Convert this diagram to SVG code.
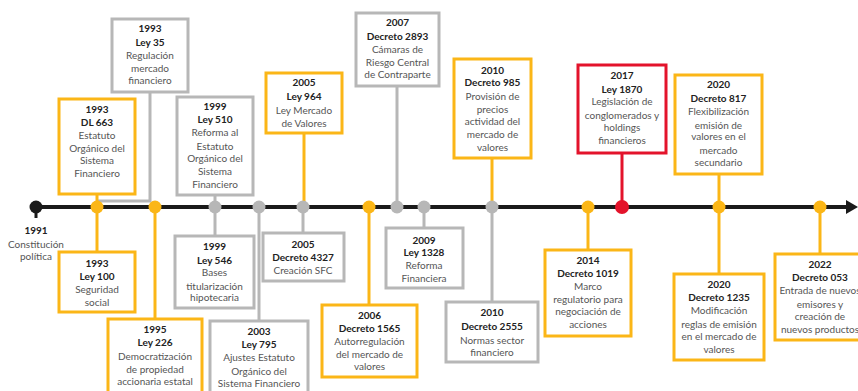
<svg xmlns="http://www.w3.org/2000/svg" width="858" height="391" viewBox="0 0 858 391">
<style>
text{font-family:Lato,"Open Sans","Liberation Sans",sans-serif;font-size:10px;text-anchor:middle;fill:#555}
.b{font-weight:bold;fill:#222}
.box{fill:#fff;stroke-width:3}
.y{stroke:#FBB617}
.g{stroke:#B7B7B7}
.r{stroke:#E3132B}
.c{fill:none;stroke-width:3}
.dy{fill:#FBB617}.dg{fill:#B7B7B7}.dr{fill:#E3132B}
</style>
<rect width="858" height="391" fill="#fff"/>
<g id="connectors">
<polyline class="c g" points="150,92 150,201 97,201"/>
<line class="c y" x1="97" y1="194" x2="97" y2="252"/>
<line class="c y" x1="155" y1="207" x2="155" y2="319"/>
<line class="c g" x1="215" y1="195" x2="215" y2="236"/>
<line class="c g" x1="259" y1="207" x2="259" y2="321"/>
<line class="c y" x1="304" y1="133" x2="304" y2="207"/>
<line class="c g" x1="303" y1="207" x2="303" y2="233"/>
<line class="c y" x1="369" y1="207" x2="369" y2="305"/>
<line class="c g" x1="397" y1="86" x2="397" y2="207"/>
<line class="c g" x1="424" y1="207" x2="424" y2="228"/>
<line class="c y" x1="492" y1="158" x2="492" y2="207"/>
<line class="c g" x1="492" y1="207" x2="492" y2="302"/>
<line class="c y" x1="588" y1="207" x2="588" y2="250"/>
<line class="c r" x1="622" y1="153" x2="622" y2="207"/>
<line class="c y" x1="719" y1="174" x2="719" y2="274"/>
<line class="c y" x1="820" y1="207" x2="820" y2="254"/>
<line x1="36" y1="207" x2="36" y2="218" stroke="#1a1a1a" stroke-width="3"/>
<line x1="36" y1="207" x2="848" y2="207" stroke="#1a1a1a" stroke-width="4"/>
<polygon points="846,200 858,207 846,214" fill="#1a1a1a"/>
</g>
<g id="dots">
<circle cx="36" cy="207" r="6.5" fill="#1a1a1a"/>
<circle class="dy" cx="97" cy="207" r="6.5"/>
<circle class="dy" cx="155" cy="207" r="6.5"/>
<circle class="dg" cx="215" cy="207" r="6.5"/>
<circle class="dg" cx="259" cy="207" r="6.5"/>
<circle class="dg" cx="303" cy="207" r="6.5"/>
<circle class="dy" cx="369" cy="207" r="6.5"/>
<circle class="dg" cx="397" cy="207" r="6.5"/>
<circle class="dg" cx="424" cy="207" r="6.5"/>
<circle class="dg" cx="492" cy="207" r="6.5"/>
<circle class="dy" cx="588" cy="207" r="6.5"/>
<circle class="dr" cx="622" cy="207" r="7"/>
<circle class="dy" cx="719" cy="207" r="6.5"/>
<circle class="dy" cx="820" cy="207" r="6.5"/>
</g>
<g id="n1991">
<text class="b" x="36" y="234">1991</text>
<text x="36" y="247.5">Constitución</text>
<text x="36" y="260">política</text>
</g>
<g id="ley35">
<rect class="box g" x="112" y="19" width="76" height="73"/>
<text class="b" x="150" y="32">1993</text>
<text class="b" x="150" y="45.5">Ley 35</text>
<text x="150" y="59">Regulación</text>
<text x="150" y="72">mercado</text>
<text x="150" y="84">financiero</text>
</g>
<g id="dl663">
<rect class="box y" x="59" y="99" width="76" height="95"/>
<text class="b" x="97" y="113">1993</text>
<text class="b" x="97" y="126">DL 663</text>
<text x="97" y="139">Estatuto</text>
<text x="97" y="152">Orgánico del</text>
<text x="97" y="164">Sistema</text>
<text x="97" y="177">Financiero</text>
</g>
<g id="ley510">
<rect class="box g" x="177" y="97" width="76" height="98"/>
<text class="b" x="215" y="110">1999</text>
<text class="b" x="215" y="123">Ley 510</text>
<text x="215" y="136">Reforma al</text>
<text x="215" y="150">Estatuto</text>
<text x="215" y="162">Orgánico del</text>
<text x="215" y="175">Sistema</text>
<text x="215" y="188">Financiero</text>
</g>
<g id="ley964">
<rect class="box y" x="266" y="73" width="76" height="60"/>
<text class="b" x="304" y="86">2005</text>
<text class="b" x="304" y="100">Ley 964</text>
<text x="304" y="114">Ley Mercado</text>
<text x="304" y="127">de Valores</text>
</g>
<g id="dec2893">
<rect class="box g" x="356" y="13" width="83" height="73"/>
<text class="b" x="397.5" y="26">2007</text>
<text class="b" x="397.5" y="39.5">Decreto 2893</text>
<text x="397.5" y="53">Cámaras de</text>
<text x="397.5" y="66">Riesgo Central</text>
<text x="397.5" y="78">de Contraparte</text>
</g>
<g id="dec985">
<rect class="box y" x="454" y="59" width="77" height="99"/>
<text class="b" x="492.5" y="73.5">2010</text>
<text class="b" x="492.5" y="86">Decreto 985</text>
<text x="492.5" y="99.5">Provisión de</text>
<text x="492.5" y="113">precios</text>
<text x="492.5" y="125">actividad del</text>
<text x="492.5" y="138">mercado de</text>
<text x="492.5" y="151">valores</text>
</g>
<g id="ley1870">
<rect class="box r" x="578" y="65" width="88" height="88"/>
<text class="b" x="622" y="79">2017</text>
<text class="b" x="622" y="92.5">Ley 1870</text>
<text x="622" y="105">Legislación de</text>
<text x="622" y="118.5">conglomerados y</text>
<text x="622" y="131">holdings</text>
<text x="622" y="143.5">financieros</text>
</g>
<g id="dec817">
<rect class="box y" x="675" y="75" width="87" height="99"/>
<text class="b" x="718.5" y="88">2020</text>
<text class="b" x="718.5" y="102">Decreto 817</text>
<text x="718.5" y="115">Flexibilización</text>
<text x="718.5" y="128.5">emisión de</text>
<text x="718.5" y="140">valores en el</text>
<text x="718.5" y="153.5">mercado</text>
<text x="718.5" y="166">secundario</text>
</g>
<g id="ley100">
<rect class="box y" x="59" y="252" width="76" height="60"/>
<text class="b" x="97" y="267">1993</text>
<text class="b" x="97" y="280">Ley 100</text>
<text x="97" y="293">Seguridad</text>
<text x="97" y="306">social</text>
</g>
<g id="ley226">
<rect class="box y" x="108" y="319" width="94" height="82"/>
<text class="b" x="155" y="333">1995</text>
<text class="b" x="155" y="346">Ley 226</text>
<text x="155" y="360">Democratización</text>
<text x="155" y="373">de propiedad</text>
<text x="155" y="385">accionaria estatal</text>
</g>
<g id="ley546">
<rect class="box g" x="175" y="236" width="79" height="72"/>
<text class="b" x="214.5" y="250">1999</text>
<text class="b" x="214.5" y="263.5">Ley 546</text>
<text x="214.5" y="276">Bases</text>
<text x="214.5" y="289.5">titularización</text>
<text x="214.5" y="301">hipotecaria</text>
</g>
<g id="ley795">
<rect class="box g" x="210" y="321" width="98" height="82"/>
<text class="b" x="259" y="335">2003</text>
<text class="b" x="259" y="348">Ley 795</text>
<text x="259" y="361">Ajustes Estatuto</text>
<text x="259" y="375">Orgánico del</text>
<text x="259" y="387">Sistema Financiero</text>
</g>
<g id="dec4327">
<rect class="box g" x="263" y="233" width="81" height="48"/>
<text class="b" x="303" y="247.5">2005</text>
<text class="b" x="303" y="261">Decreto 4327</text>
<text x="303" y="274">Creación SFC</text>
</g>
<g id="dec1565">
<rect class="box y" x="322" y="305" width="95" height="72"/>
<text class="b" x="369.5" y="319">2006</text>
<text class="b" x="369.5" y="332">Decreto 1565</text>
<text x="369.5" y="345">Autorregulación</text>
<text x="369.5" y="358">del mercado de</text>
<text x="369.5" y="370">valores</text>
</g>
<g id="ley1328">
<rect class="box g" x="386" y="228" width="77" height="60"/>
<text class="b" x="424" y="243.5">2009</text>
<text class="b" x="424" y="256">Ley 1328</text>
<text x="424" y="269">Reforma</text>
<text x="424" y="282">Financiera</text>
</g>
<g id="dec2555">
<rect class="box g" x="446" y="302" width="92" height="60"/>
<text class="b" x="492" y="316">2010</text>
<text class="b" x="492" y="330">Decreto 2555</text>
<text x="492" y="343.5">Normas sector</text>
<text x="492" y="356">financiero</text>
</g>
<g id="dec1019">
<rect class="box y" x="545" y="250" width="86" height="86"/>
<text class="b" x="588" y="264">2014</text>
<text class="b" x="588" y="277">Decreto 1019</text>
<text x="588" y="290">Marco</text>
<text x="588" y="303">regulatorio para</text>
<text x="588" y="315">negociación de</text>
<text x="588" y="328">acciones</text>
</g>
<g id="dec1235">
<rect class="box y" x="674" y="274" width="90" height="86"/>
<text class="b" x="719" y="288">2020</text>
<text class="b" x="719" y="301">Decreto 1235</text>
<text x="719" y="314">Modificación</text>
<text x="719" y="327.5">reglas de emisión</text>
<text x="719" y="340">en el mercado de</text>
<text x="719" y="353">valores</text>
</g>
<g id="dec053">
<rect class="box y" x="775" y="254" width="90" height="86"/>
<text class="b" x="820" y="268">2022</text>
<text class="b" x="820" y="281">Decreto 053</text>
<text x="820" y="294">Entrada de nuevos</text>
<text x="820" y="307.5">emisores y</text>
<text x="820" y="320">creación de</text>
<text x="820" y="333">nuevos productos</text>
</g>
</svg>
